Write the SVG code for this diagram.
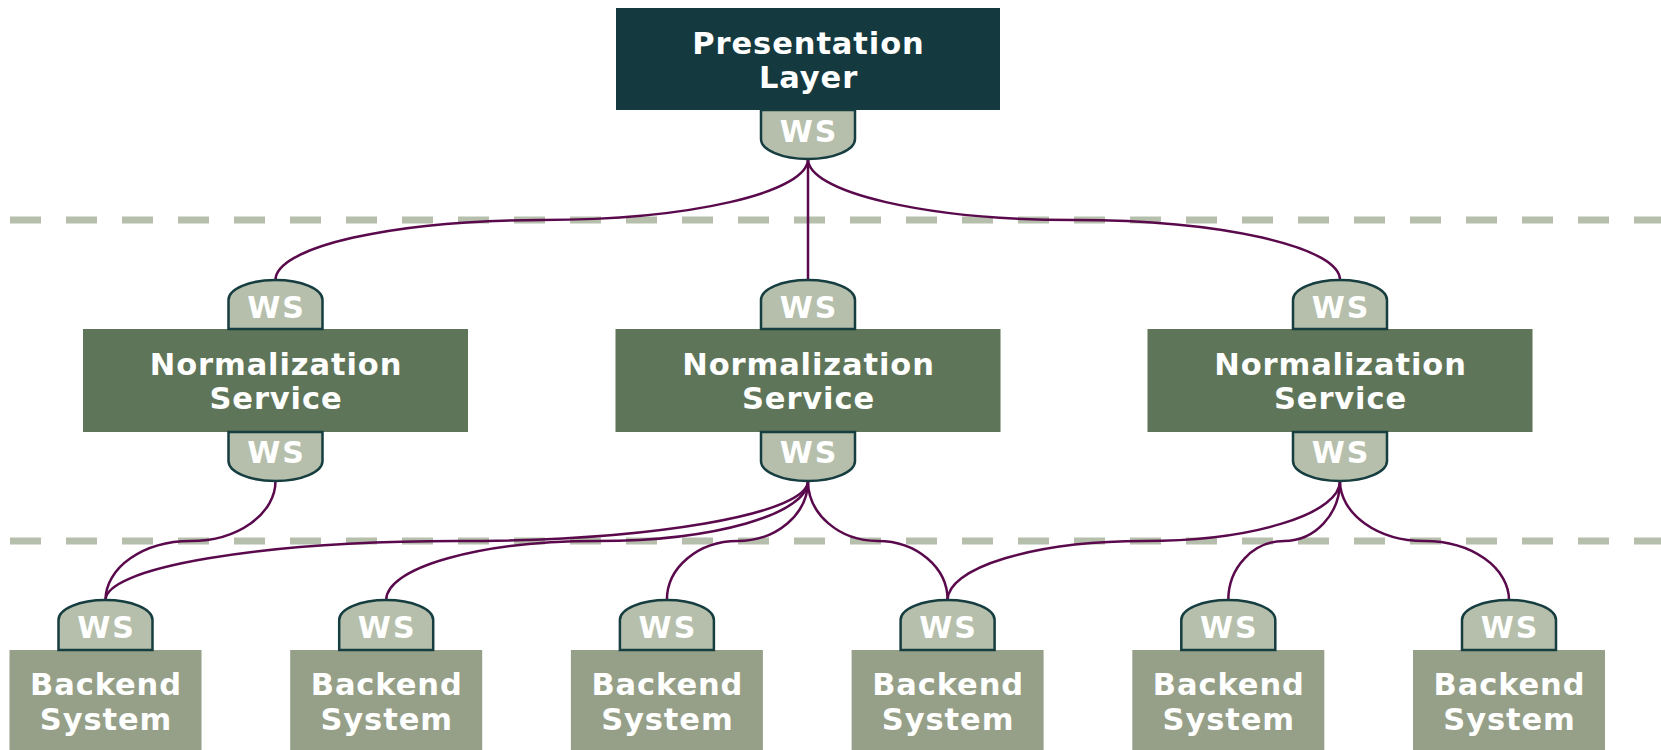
<svg xmlns="http://www.w3.org/2000/svg" width="1661" height="750" viewBox="0 0 1661 750">
<style>
.bg{fill:#ffffff}
.sep{stroke:#b6bfab;stroke-width:7;stroke-dasharray:31 25;fill:none}
.pres{fill:#143a3f}
.norm{fill:#5f7559}
.back{fill:#96a089}
.tab{fill:#b6bfab;stroke:#163d40;stroke-width:2.5}
.con{fill:none;stroke:#5a0a4c;stroke-width:2.5}
.t{font-family:"DejaVu Sans",Verdana,sans-serif;font-weight:bold;font-size:30.5px;fill:#ffffff;text-anchor:middle;letter-spacing:0.9px}
.ws{font-family:"DejaVu Sans",Verdana,sans-serif;font-weight:bold;font-size:30px;fill:#ffffff;text-anchor:middle;letter-spacing:2px}
</style>
<rect class="bg" x="0" y="0" width="1661" height="750"/>
<g id="separators">
<line class="sep" x1="10" y1="220" x2="1661" y2="220"/>
<line class="sep" x1="10" y1="541" x2="1661" y2="541"/>
</g>
<g id="connectors">
<path class="con" d="M808,159 A266.25,61 0 0 1 541.75,220 A266.25,60 0 0 0 275.5,280"/>
<path class="con" d="M808,159 V280"/>
<path class="con" d="M808,159 A266,61 0 0 0 1074,220 A266,60 0 0 1 1340,280"/>
<path class="con" d="M275.5,481 A85,60 0 0 1 190.5,541 A85,59 0 0 0 105.5,600"/>
<path class="con" d="M808,481 A351.25,60 0 0 1 456.75,541 A351.25,59 0 0 0 105.5,600"/>
<path class="con" d="M808,481 A210.9,60 0 0 1 597.1,541 A210.9,59 0 0 0 386.2,600"/>
<path class="con" d="M808,481 A70.55,60 0 0 1 737.45,541 A70.55,59 0 0 0 666.9,600"/>
<path class="con" d="M808,481 A69.8,60 0 0 0 877.8,541 A69.8,59 0 0 1 947.6,600"/>
<path class="con" d="M1340,481 A196.2,60 0 0 1 1143.8,541 A196.2,59 0 0 0 947.6,600"/>
<path class="con" d="M1340,481 A55.85,60 0 0 1 1284.15,541 A55.85,59 0 0 0 1228.3,600"/>
<path class="con" d="M1340,481 A84.5,60 0 0 0 1424.5,541 A84.5,59 0 0 1 1509,600"/>
</g>
<g id="presentation">
<rect class="pres" x="616" y="8" width="384" height="102"/>
<text class="t" x="808.5" y="54">Presentation</text>
<text class="t" x="808.5" y="88">Layer</text>
<path class="tab" d="M761,110 V139 A47,20 0 0 0 855,139 V110 Z"/>
<text class="ws" x="809" y="142">WS</text>
</g>
<g id="norm1">
<rect class="norm" x="83" y="329" width="385" height="103"/>
<text class="t" x="276" y="375">Normalization</text>
<text class="t" x="276" y="409">Service</text>
<path class="tab" d="M228.5,329 V300 A47,20 0 0 1 322.5,300 V329 Z"/>
<text class="ws" x="276.5" y="318">WS</text>
<path class="tab" d="M228.5,432 V461 A47,20 0 0 0 322.5,461 V432 Z"/>
<text class="ws" x="276.5" y="463">WS</text>
</g>
<g id="norm2">
<rect class="norm" x="615.5" y="329" width="385" height="103"/>
<text class="t" x="808.5" y="375">Normalization</text>
<text class="t" x="808.5" y="409">Service</text>
<path class="tab" d="M761,329 V300 A47,20 0 0 1 855,300 V329 Z"/>
<text class="ws" x="809" y="318">WS</text>
<path class="tab" d="M761,432 V461 A47,20 0 0 0 855,461 V432 Z"/>
<text class="ws" x="809" y="463">WS</text>
</g>
<g id="norm3">
<rect class="norm" x="1147.5" y="329" width="385" height="103"/>
<text class="t" x="1340.5" y="375">Normalization</text>
<text class="t" x="1340.5" y="409">Service</text>
<path class="tab" d="M1293,329 V300 A47,20 0 0 1 1387,300 V329 Z"/>
<text class="ws" x="1341" y="318">WS</text>
<path class="tab" d="M1293,432 V461 A47,20 0 0 0 1387,461 V432 Z"/>
<text class="ws" x="1341" y="463">WS</text>
</g>
<g id="backend1">
<rect class="back" x="9.5" y="650" width="192" height="102"/>
<text class="t" x="106" y="695">Backend</text>
<text class="t" x="106" y="729.5">System</text>
<path class="tab" d="M58.5,650 V620 A47,20 0 0 1 152.5,620 V650 Z"/>
<text class="ws" x="106.5" y="638">WS</text>
</g>
<g id="backend2">
<rect class="back" x="290.2" y="650" width="192" height="102"/>
<text class="t" x="386.7" y="695">Backend</text>
<text class="t" x="386.7" y="729.5">System</text>
<path class="tab" d="M339.2,650 V620 A47,20 0 0 1 433.2,620 V650 Z"/>
<text class="ws" x="387.2" y="638">WS</text>
</g>
<g id="backend3">
<rect class="back" x="570.9" y="650" width="192" height="102"/>
<text class="t" x="667.4" y="695">Backend</text>
<text class="t" x="667.4" y="729.5">System</text>
<path class="tab" d="M619.9,650 V620 A47,20 0 0 1 713.9,620 V650 Z"/>
<text class="ws" x="667.9" y="638">WS</text>
</g>
<g id="backend4">
<rect class="back" x="851.6" y="650" width="192" height="102"/>
<text class="t" x="948.1" y="695">Backend</text>
<text class="t" x="948.1" y="729.5">System</text>
<path class="tab" d="M900.6,650 V620 A47,20 0 0 1 994.6,620 V650 Z"/>
<text class="ws" x="948.6" y="638">WS</text>
</g>
<g id="backend5">
<rect class="back" x="1132.3" y="650" width="192" height="102"/>
<text class="t" x="1228.8" y="695">Backend</text>
<text class="t" x="1228.8" y="729.5">System</text>
<path class="tab" d="M1181.3,650 V620 A47,20 0 0 1 1275.3,620 V650 Z"/>
<text class="ws" x="1229.3" y="638">WS</text>
</g>
<g id="backend6">
<rect class="back" x="1413" y="650" width="192" height="102"/>
<text class="t" x="1509.5" y="695">Backend</text>
<text class="t" x="1509.5" y="729.5">System</text>
<path class="tab" d="M1462,650 V620 A47,20 0 0 1 1556,620 V650 Z"/>
<text class="ws" x="1510" y="638">WS</text>
</g>
</svg>
